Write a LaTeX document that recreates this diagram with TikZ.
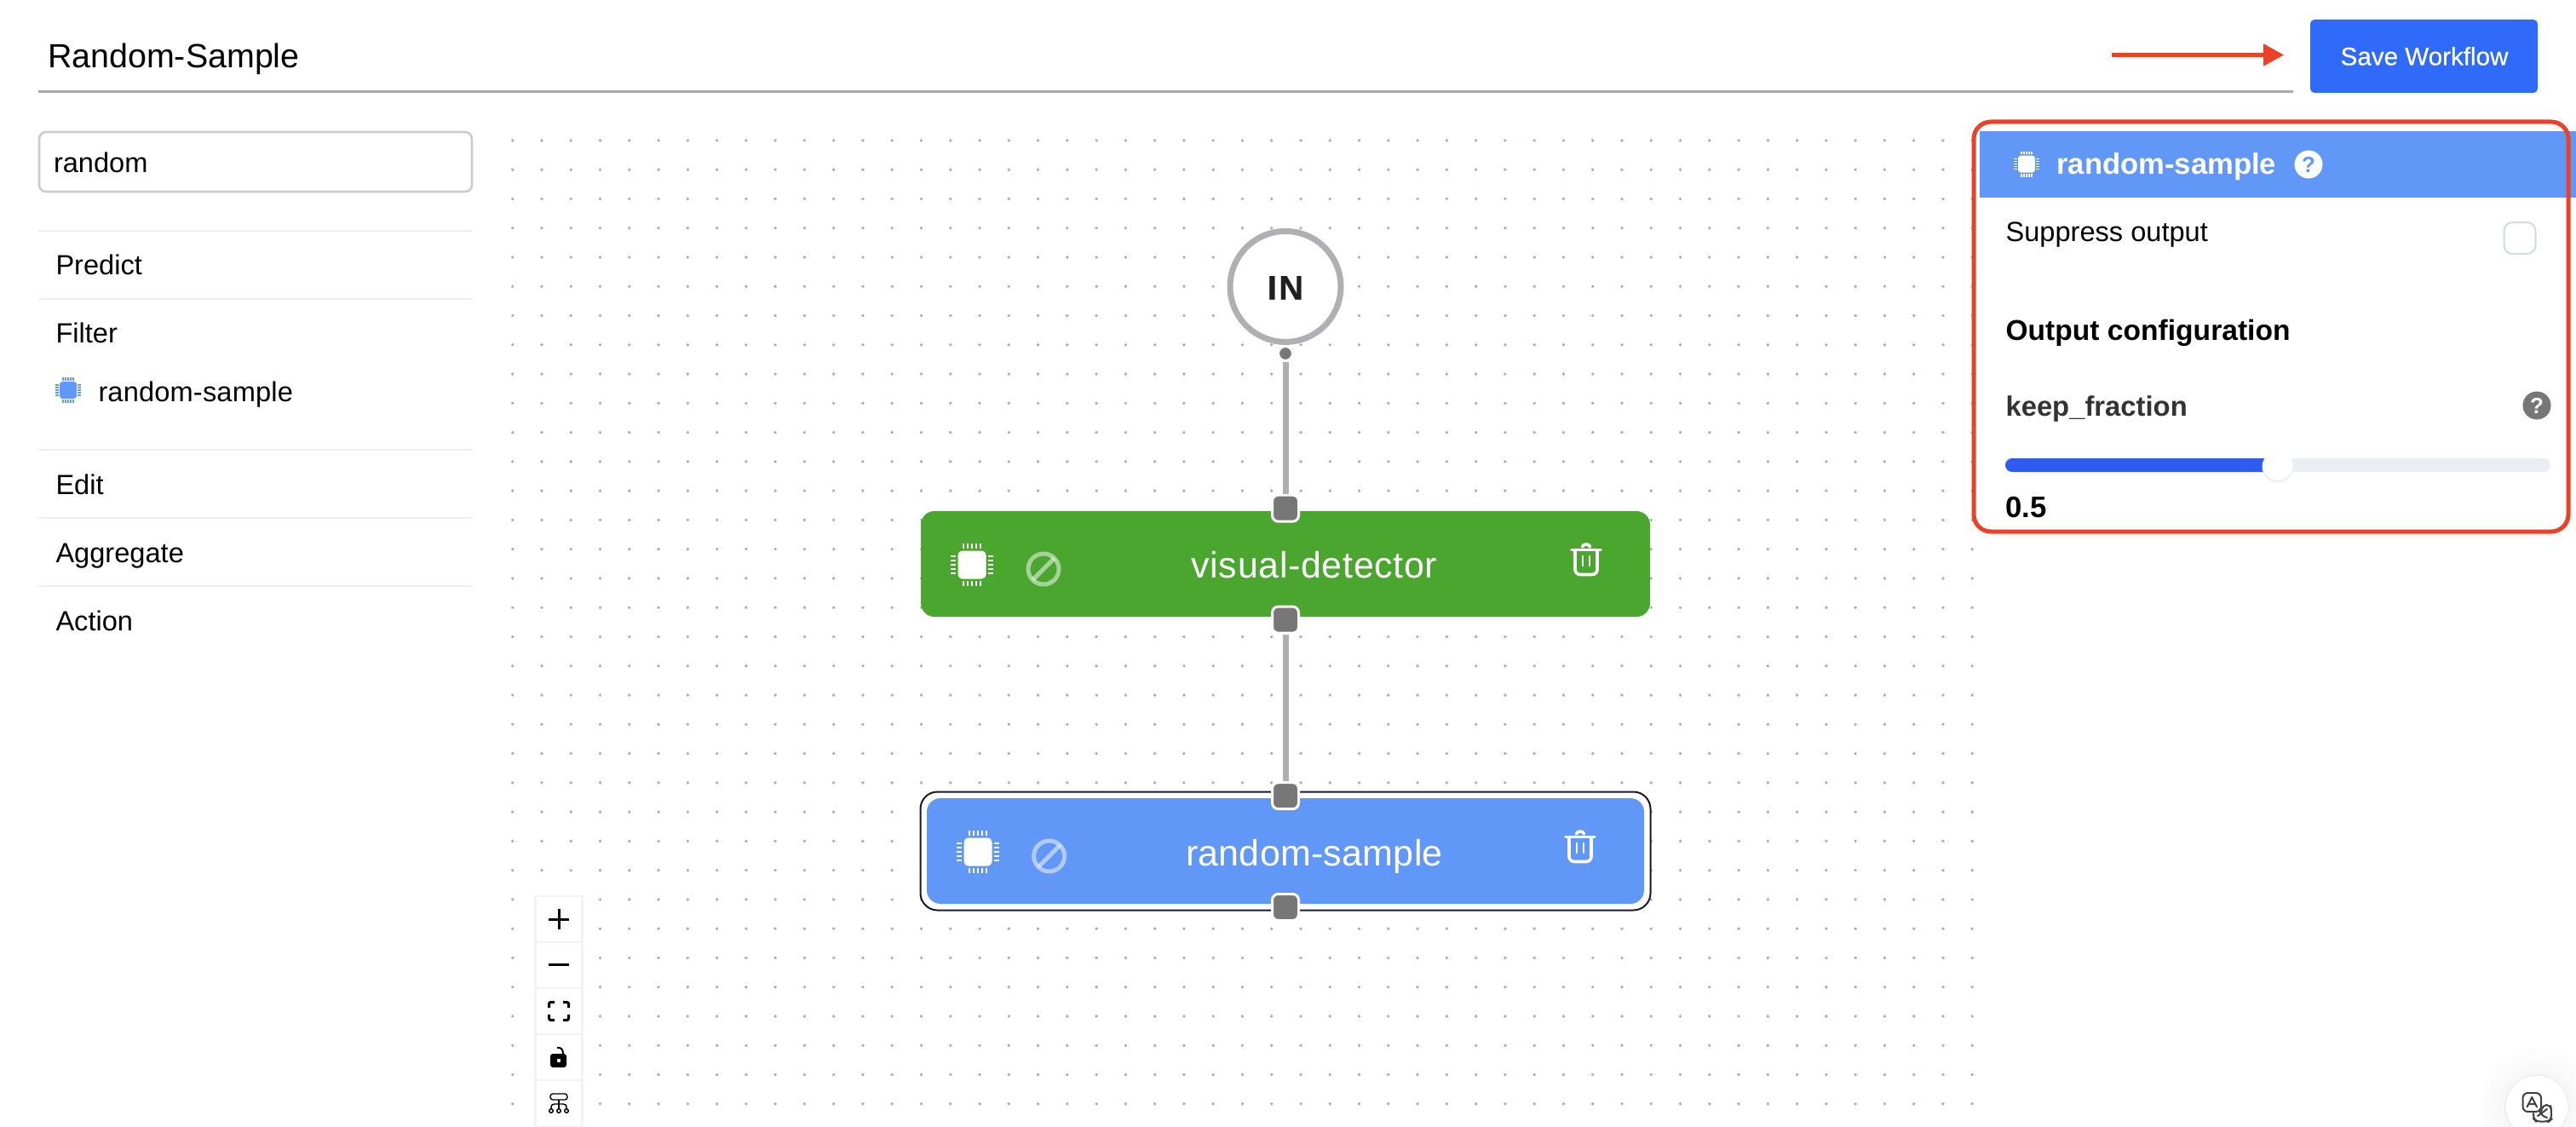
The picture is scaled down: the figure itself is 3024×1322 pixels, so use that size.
\documentclass[tikz,border=0pt]{standalone}
\usepackage{fontspec}
\setmainfont{Liberation Sans}
\usetikzlibrary{arrows.meta,calc}
\definecolor{cgreen}{HTML}{4BA630}
\definecolor{cblue}{HTML}{6197F6}
\definecolor{csave}{HTML}{2F6BF8}
\definecolor{cslide}{HTML}{2E5BF0}
\definecolor{ctrack}{HTML}{EDEEF3}
\definecolor{cred}{HTML}{EA4127}
\definecolor{cline}{HTML}{B0AFB4}
\definecolor{chandle}{HTML}{777777}
\definecolor{cdot}{HTML}{AEADB2}
\definecolor{csep}{HTML}{EEEEEE}
\definecolor{cink}{HTML}{1A192B}
\definecolor{cunder}{HTML}{A9A9A9}
\definecolor{csearch}{HTML}{CCCCCC}
\definecolor{ccheck}{HTML}{D5DAE1}
\newcommand\fs[1]{\fontsize{#1}{#1}\selectfont}
\newcommand\chipicon[4]{%
  \begin{scope}[shift={(#1,#2)},scale=#3]
    \fill[#4,rounded corners=#3*2.5pt] (-16.5,-16.5) rectangle (16.5,16.5);
    \foreach \d in {-10,-5,0,5,10}{
      \fill[#4] (\d-1,-25) rectangle (\d+1,-19);
      \fill[#4] (\d-1,19) rectangle (\d+1,25);
      \fill[#4] (-25,\d-1) rectangle (-19,\d+1);
      \fill[#4] (19,\d-1) rectangle (25,\d+1);
    }
  \end{scope}}
\newcommand\banicon[2]{%
  \begin{scope}[shift={(#1,#2)}]
    \draw[white,opacity=.5,line width=2.5pt] (0,0) circle (18);
    \draw[white,opacity=.5,line width=2.5pt] (-12.7,12.7) -- (12.7,-12.7);
  \end{scope}}
\newcommand\trashicon[2]{%
  \begin{scope}[shift={(#1,#2)},white,line width=1.8pt,line cap=round,line join=round]
    \draw (-17,-11.5) -- (17,-11.5);
    \draw (-4.5,-15) .. controls (-4,-19) and (4,-19) .. (4.5,-15);
    \draw[rounded corners=3pt] (-13,-10) -- (-13,17.5) -- (13,17.5) -- (13,-10);
    \draw[line width=1.4pt] (-4,-4) -- (-4,7);
    \draw[line width=1.4pt] (4,-4) -- (4,7);
  \end{scope}}
\tikzset{
  x=0.5pt,y=-0.5pt,
  txt/.style={inner sep=0pt,outer sep=0pt,anchor=base west,text=black},
  ctxt/.style={inner sep=0pt,outer sep=0pt,anchor=base},
  side/.style={txt,font=\fs{16.3}},
  flow/.style={draw=none,rectangle,rounded corners=8pt,minimum width=428pt,minimum height=62pt,inner sep=0pt},
  handle/.style={rectangle,draw=white,fill=chandle,line width=1.5pt,rounded corners=3.5pt,minimum size=15.5pt,inner sep=0pt},
  indot/.style={circle,draw=white,fill=chandle,line width=1.5pt,minimum size=8.5pt,inner sep=0pt},
  conn/.style={cline,line width=3.5pt},
  sep/.style={csep,line width=1.2pt},
  help/.style={circle,minimum size=16.5pt,inner sep=0pt,font=\bfseries\fs{13}},
  panelbtn/.style={fill=white},
  ico/.style={black,line width=1.4pt},
}
\begin{document}
\begin{tikzpicture}
\useasboundingbox (0,0) rectangle (3024,1322);
\fill[white] (0,0) rectangle (3024,1322);
\clip (0,0) rectangle (3024,1322);

% dot background
\foreach \i in {0,...,50}{
  \foreach \j in {0,...,33}{
    \fill[cdot] ({601.7+34.27*\i},{164.9+34.27*\j}) circle (1.9);
  }
}

% title
\node[txt,font=\fs{19.7}] (title) at (56,80) {Random-Sample};
\draw[cunder,line width=1.5pt] (45,107.7) -- (2691.5,107.7);
\node[fill=csave,rounded corners=2.5pt,minimum width=133.5pt,minimum height=43pt,inner sep=0pt] (save) at (2845.5,66) {};
\node[ctxt,text=white,font=\fs{14.8}] (savetxt) at (2846,76.5) {\addfontfeature{FakeBold=0.4}Save Workflow};
\coordinate (arrowa) at (2479,64.5);
\coordinate (arrowb) at (2681,64.5);
\draw[cred,line width=2.5pt,-{Triangle[length=12pt,width=12.5pt]}] (arrowa) -- (arrowb);

% sidebar
\node[draw=csearch,line width=1.3pt,fill=white,rounded corners=4pt,minimum width=254pt,minimum height=35pt,inner sep=0pt] (search) at (300,190) {};
\node[side] (searchtxt) at (63,202) {random};
\draw[sep] (45,271) -- (555,271);
\draw[sep] (45,351) -- (555,351);
\draw[sep] (45,528) -- (555,528);
\draw[sep] (45,608) -- (555,608);
\draw[sep] (45,688) -- (555,688);
\node[side] (predict) at (65.5,322.6) {Predict};
\node[side] (filter) at (65.5,402.6) {Filter};
\chipicon{80}{458}{0.6}{cblue}
\node[side] (sample) at (115.5,471) {\addfontfeature{LetterSpace=.5}random-sample};
\node[side] (edit) at (65.5,580.6) {Edit};
\node[side] (aggregate) at (65.5,660.6) {Aggregate};
\node[side] (action) at (65.5,740.6) {Action};

% flow: IN
\node[circle,draw=cline,fill=white,line width=3.5pt,minimum size=65pt,inner sep=0pt] (in) at (1509,336.4) {};
\node[ctxt,text=black!88,font=\bfseries\fs{20}] (intxt) at (1509,351.7) {\addfontfeature{LetterSpace=6,FakeBold=0.6}IN};
\node[indot] (out0) at (1509,415) {};

% flow: green node
\node[flow,fill=cgreen] (detector) at (1509,662) {};
\node[ctxt,text=white,font=\fs{21.5}] (dettxt) at (1543,678) {\addfontfeature{LetterSpace=1.5}visual-detector};
\chipicon{1141}{663}{1}{white}
\banicon{1225}{668}
\trashicon{1862}{657}
\node[handle] (h1) at (1509,596.7) {};
\node[handle] (h2) at (1509,727.6) {};

% flow: blue node
\node[flow,draw=cink,fill=white,line width=1pt,rounded corners=10pt,minimum width=428.5pt,minimum height=69.5pt] (outer) at (1509,999) {};
\node[flow,fill=cblue,minimum width=421pt] (randomnode) at (1509,999) {};
\node[ctxt,text=white,font=\fs{21.5}] (rndtxt) at (1543,1016) {\addfontfeature{LetterSpace=.6}random-sample};
\chipicon{1148}{1000}{1}{white}
\banicon{1231.6}{1005}
\trashicon{1855}{994}
\node[handle] (h3) at (1509,934.2) {};
\node[handle] (h4) at (1509,1065) {};

% connectors
\draw[conn] (out0) -- (h1);
\draw[conn] (h2) -- (h3);

% zoom panel
\fill[csep!70!white] (627,1051) rectangle (685,1322);
\foreach \t in {1053,1107,1161,1215,1269}{
  \fill[panelbtn] (629.7,\t) rectangle (682,\t+52);
}
\draw[ico,line width=1.5pt] (644,1079) -- (668,1079);
\draw[ico,line width=1.5pt] (656,1067) -- (656,1091);
\draw[ico,line width=1.7pt] (644,1132.3) -- (668,1132.3);
\begin{scope}[ico,line width=1.5pt,rounded corners=1pt]
  \draw (644.5,1183) -- (644.5,1176.5) -- (651,1176.5);
  \draw (661,1176.5) -- (667.5,1176.5) -- (667.5,1183);
  \draw (644.5,1191) -- (644.5,1197.5) -- (651,1197.5);
  \draw (661,1197.5) -- (667.5,1197.5) -- (667.5,1191);
\end{scope}
\fill[black,rounded corners=1.5pt] (646,1237) rectangle (665,1253);
\fill[white] (656,1245) circle (2.2);
\draw[ico,line width=1pt] (654,1230) .. controls (659,1229.5) and (661,1232) .. (661,1237);
\draw[ico,line width=.7pt,rounded corners=1.5pt] (646,1284) rectangle (666,1291);
\draw[ico,line width=.7pt] (656,1291) -- (656,1301.5);
\draw[ico,line width=.7pt] (647,1301.5) .. controls (647,1297) and (648,1296) .. (651,1296) -- (661,1296) .. controls (664,1296) and (665,1297) .. (665,1301.5);
\foreach \cx in {647,656,665}{\draw[ico,line width=.7pt] (\cx,1304) circle (2.3);}

% right panel
\fill[cblue] (2324,154) rectangle (3024,231.5);
\chipicon{2379}{192.6}{0.6}{white}
\node[txt,text=white,font=\bfseries\fs{17.3}] (hdrtxt) at (2414.5,204) {random-sample};
\node[help,fill=white,text=cblue] (hdrhelp) at (2710,193) {?};
\node[txt,font=\fs{16.3}] (suppress) at (2354.5,283) {Suppress output};
\node[draw=ccheck,fill=white,line width=1pt,rounded corners=5pt,minimum width=18.5pt,minimum height=18.5pt,inner sep=0pt] (check) at (2958,279.5) {};
\node[txt,font=\bfseries\fs{16.8}] (outcfg) at (2354.5,399) {Output configuration};
\node[txt,text=black!80,font=\bfseries\fs{16.4}] (keep) at (2354.5,488.6) {keep\_fraction};
\node[help,fill=chandle,text=white] (keephelp) at (2978,476) {?};
\fill[ctrack,rounded corners=4pt] (2354,538) rectangle (2994,554);
\fill[cslide,rounded corners=4pt] (2354,538) rectangle (2680,554);
\fill[black!6] (2674,548) circle (18.5);
\node[circle,fill=white,minimum size=17.5pt,inner sep=0pt] (thumb) at (2674,546) {};
\node[txt,font=\bfseries\fs{17.4}] (value) at (2354.5,607) {0.5};
\draw[cred,line width=2.5pt,rounded corners=10pt] (2317,143) rectangle (3015,624);

% translate button
\foreach \r in {70,66,...,38}{
  \fill[black,opacity=.004] (2978,1299) circle (\r);
}
\node[circle,draw=ctrack,fill=white,line width=.7pt,minimum size=37pt,inner sep=0pt] (translate) at (2978,1299) {};
\begin{scope}[black!75,line width=1pt,line join=round,line cap=round]
  \fill[white] (2974,1296) rectangle (2995,1317);
  \draw[rounded corners=2.5pt] (2983,1305) -- (2985,1297) -- (2994,1297) -- (2995,1303) -- (2995,1314) -- (2992,1316.5) -- (2977,1316.5) -- (2974,1313) -- (2974,1307);
  \draw[fill=white,rounded corners=3pt] (2961.5,1283) rectangle (2983,1305);
  \draw (2966.5,1299.5) -- (2972.2,1288) -- (2978,1299.5) (2968.5,1296) -- (2976,1296);
  \draw (2979,1310) -- (2990,1302) (2981,1303) .. controls (2982,1308) and (2986,1311) .. (2990,1312);
\end{scope}
\end{tikzpicture}
\end{document}
